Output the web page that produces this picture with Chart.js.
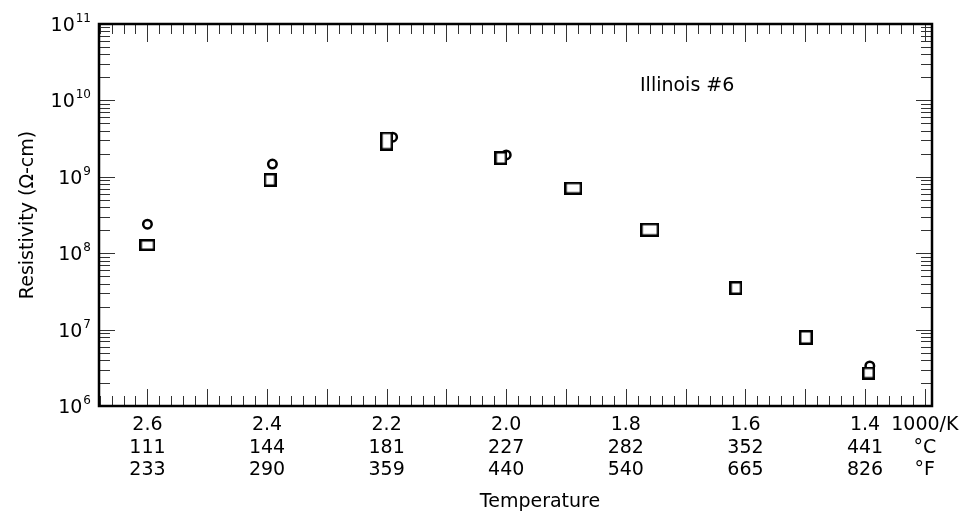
<!DOCTYPE html>
<html><head><meta charset="utf-8">
<script src="https://cdn.jsdelivr.net/npm/chart.js@4.4.1/dist/chart.umd.min.js"></script>
<style>html,body{margin:0;padding:0;background:#fff;}canvas{display:block;}</style>
</head><body>
<canvas id="c" width="975" height="511"></canvas>
<script>
// ---- data ----
const squareX = [2.600, 2.395, 2.200, 2.009, 1.888, 1.760, 1.616, 1.499, 1.394];
const squareY = [1.28e8, 9.1e8, 2.94e9, 1.76e9, 7.1e8, 2.03e8, 3.5e7, 7.9e6, 2.7e6];
const circleX = [2.600, 2.391, 2.190, 2.000, 1.392];
const circleY = [2.4e8, 1.47e9, 3.3e9, 1.93e9, 3.35e6];

const xTickValues = [2.6, 2.4, 2.2, 2.0, 1.8, 1.6, 1.4];
const invKLabels = ['2.6', '2.4', '2.2', '2.0', '1.8', '1.6', '1.4'];
const celsiusLabels = ['111', '144', '181', '227', '282', '352', '441'];
const fahrenheitLabels = ['233', '290', '359', '440', '540', '665', '826'];
const unitTickValue = 1.3;
const unitLabels = ['1000/K', '°C', '°F'];
const yDecades = [6, 7, 8, 9, 10, 11];
const seriesName = 'Illinois #6';

// ---- styling ----
const FONT = 'DejaVu Sans';
const squareBoxPx = [[16,12],[13,14],[13,19],[13,14],[18,13],[19,14],[13,14],[14,15],[13,13]];
function makeBox(w, h) {
  const c = document.createElement('canvas');
  c.width = w; c.height = h;
  const g = c.getContext('2d');
  g.fillStyle = '#fff'; g.fillRect(0, 0, w, h);
  g.strokeStyle = '#000'; g.lineWidth = 2.5;
  g.strokeRect(1.25, 1.25, w - 2.5, h - 2.5);
  return c;
}
const squareStyles = squareBoxPx.map(([w, h]) => makeBox(w, h));

const decor = {
  id: 'decor',
  beforeDatasetsDraw(chart) {
    const {ctx, chartArea: a, scales: {x, y}} = chart;
    ctx.save();
    ctx.strokeStyle = '#333';
    ctx.lineWidth = 1;
    ctx.beginPath();
    for (let k = 130; k <= 268; k += 2) {
      const px = Math.round(x.getPixelForValue(k / 100)) + 0.5;
      const major = k % 10 === 0;
      const lb = major ? 17 : 10, lt = major ? 18 : 10;
      ctx.moveTo(px, a.bottom); ctx.lineTo(px, a.bottom - lb);
      ctx.moveTo(px, a.top); ctx.lineTo(px, a.top + lt);
    }
    for (let n = 6; n <= 10; n++) {
      for (let m = 1; m <= 9; m++) {
        const py = Math.round(y.getPixelForValue(m * Math.pow(10, n))) + 0.5;
        const len = m === 1 ? 16 : 11;
        ctx.moveTo(a.left, py); ctx.lineTo(a.left + len, py);
        ctx.moveTo(a.right, py); ctx.lineTo(a.right - len, py);
      }
    }
    ctx.stroke();
    ctx.strokeStyle = '#000';
    ctx.lineWidth = 2.5;
    ctx.strokeRect(a.left, a.top, a.right - a.left, a.bottom - a.top);
    ctx.restore();
  },
  afterDraw(chart) {
    const {ctx, chartArea: a, scales: {y}} = chart;
    ctx.save();
    ctx.fillStyle = '#000';
    ctx.textBaseline = 'alphabetic';
    ctx.textAlign = 'left';
    const right = 91;
    for (const n of yDecades) {
      const py = y.getPixelForValue(Math.pow(10, n));
      const sup = String(n);
      ctx.font = `12px "${FONT}"`;
      const sw = ctx.measureText(sup).width;
      ctx.font = `19px "${FONT}"`;
      const mw = ctx.measureText('10').width;
      const supX = right - sw;
      const mainX = supX - 1 - mw;
      ctx.fillText('10', mainX, py + 7);
      ctx.font = `12px "${FONT}"`;
      ctx.fillText(sup, supX, py - 2);
    }
    ctx.font = `19px "${FONT}"`;
    ctx.fillText(seriesName, 640, 91);
    ctx.textAlign = 'center';
    ctx.fillText('Temperature', 540, 507);
    ctx.translate(33, (a.top + a.bottom) / 2);
    ctx.rotate(-Math.PI / 2);
    ctx.fillText('Resistivity (Ω-cm)', 0, 0);
    ctx.restore();
  }
};

new Chart(document.getElementById('c'), {
  type: 'scatter',
  data: {
    datasets: [
      {
        label: 'squares',
        data: squareX.map((v, i) => ({x: v, y: squareY[i]})),
        pointStyle: squareStyles,
        pointRadius: 6,
        showLine: false
      },
      {
        label: 'circles',
        data: circleX.map((v, i) => ({x: v, y: circleY[i]})),
        pointStyle: 'circle',
        pointRadius: 4.25,
        borderWidth: 2.5,
        borderColor: '#000',
        backgroundColor: '#fff',
        showLine: false
      }
    ]
  },
  options: {
    responsive: false,
    animation: false,
    devicePixelRatio: 1,
    layout: {padding: {top: 24, right: 43, bottom: 0, left: 0}, autoPadding: false},
    plugins: {legend: {display: false}, tooltip: {enabled: false}},
    scales: {
      x: {
        type: 'linear',
        reverse: true,
        min: 1.288,
        max: 2.681,
        grid: {display: false, drawTicks: false},
        border: {display: false},
        afterBuildTicks: (s) => {
          s.ticks = xTickValues.map(v => ({value: v})).concat([{value: unitTickValue}]);
        },
        afterFit: (s) => { s.height = 105; },
        ticks: {
          autoSkip: false,
          maxRotation: 0,
          minRotation: 0,
          padding: 8,
          color: '#000',
          font: {family: FONT, size: 19, lineHeight: 1.184},
          callback: (value, index) => index < xTickValues.length
            ? [invKLabels[index], celsiusLabels[index], fahrenheitLabels[index]]
            : unitLabels
        }
      },
      y: {
        type: 'logarithmic',
        min: 1e6,
        max: 1e11,
        grid: {display: false, drawTicks: false},
        border: {display: false},
        ticks: {display: false},
        afterFit: (s) => { s.width = 99; }
      }
    }
  },
  plugins: [decor]
});
</script>
</body></html>
